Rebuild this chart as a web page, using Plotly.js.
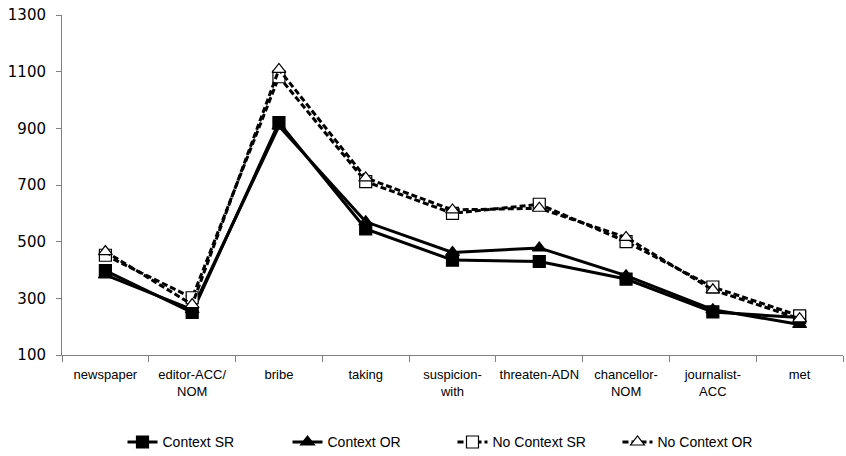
<!DOCTYPE html>
<html>
<head>
<meta charset="utf-8">
<script src="https://cdn.plot.ly/plotly-3.0.1.min.js"></script>
<style>html,body{margin:0;padding:0;background:#fff;}#chart{width:846px;height:456px;}</style>
</head>
<body>
<div id="chart"></div>
<script>
var categories = ["newspaper", "editor-ACC/<br>NOM", "bribe", "taking", "suspicion-<br>with", "threaten-ADN", "chancellor-<br>NOM", "journalist-<br>ACC", "met"];
var contextSR = [398, 250, 920, 545, 435, 430, 368, 252, 232];
var contextOR = [383, 260, 908, 570, 462, 478, 380, 260, 208];
var noContextSR = [452, 302, 1082, 712, 600, 632, 500, 340, 238];
var noContextOR = [465, 278, 1108, 725, 612, 618, 515, 330, 228];
var seriesNames = ["Context SR", "Context OR", "No Context SR", "No Context OR"];

var narrow = "Liberation Sans Narrow, Arial Narrow, Liberation Sans, sans-serif";
function trace(y, name, symbol, dash, fill) {
  return {
    x: categories, y: y, name: name, type: "scatter", mode: "lines+markers",
    line: {color: "#000", width: 3, dash: dash},
    marker: {symbol: symbol, size: 12, color: fill, line: {color: "#000", width: 1.2}}
  };
}
var data = [
  trace(contextSR, seriesNames[0], "square", "solid", "#000"),
  trace(contextOR, seriesNames[1], "triangle-up", "solid", "#000"),
  trace(noContextSR, seriesNames[2], "square", "6px,3px", "#fff"),
  trace(noContextOR, seriesNames[3], "triangle-up", "6px,3px", "#fff")
];

var layout = {
  width: 846, height: 456,
  margin: {l: 62, r: 3, t: 15, b: 101, autoexpand: false},
  paper_bgcolor: "#fff", plot_bgcolor: "#fff",
  showlegend: true,
  legend: {orientation: "h", x: 0.5, xanchor: "center", y: -0.21, yanchor: "top",
           font: {family: narrow, size: 14, color: "#000"}, entrywidth: 120,
           traceorder: "normal"},
  xaxis: {type: "category", showgrid: false, zeroline: false, showline: true, linecolor: "#808080", linewidth: 1,
          ticks: "outside", tickson: "boundaries", ticklen: 6, tickcolor: "#808080", tickangle: 0,
          automargin: false, ticklabelstandoff: 7,
          tickfont: {family: narrow, size: 13, color: "#000"},
          range: [-0.5, 8.5], fixedrange: true},
  yaxis: {range: [100, 1300], dtick: 200, tick0: 100, showgrid: false, zeroline: false, showline: true,
          linecolor: "#808080", linewidth: 1, ticks: "outside", ticklen: 5, tickcolor: "#808080",
          automargin: false, showticklabels: false},
  yaxis2: {overlaying: "y", side: "left", range: [100, 1300], dtick: 200, tick0: 100, showgrid: false,
           zeroline: false, showline: false, ticks: "", automargin: false, ticklabelstandoff: 15,
           tickfont: {family: "DejaVu Sans, Verdana, sans-serif", size: 15, color: "#000"}}
};
data.push({x: [categories[0]], y: [null], yaxis: "y2", type: "scatter", mode: "lines", showlegend: false, hoverinfo: "skip"});
Plotly.newPlot("chart", data, layout, {displayModeBar: false, staticPlot: true});
</script>
</body>
</html>
